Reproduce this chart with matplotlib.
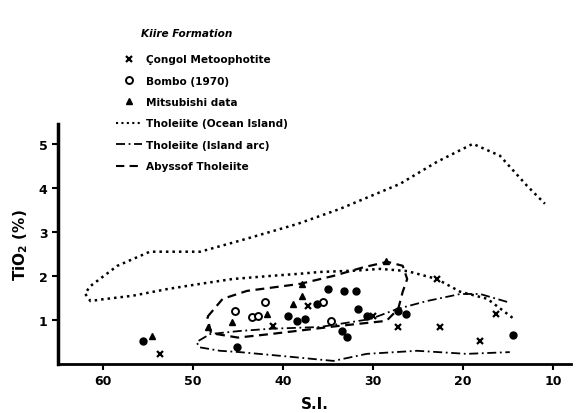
import matplotlib
matplotlib.use("Agg")
import matplotlib.pyplot as plt
from matplotlib.lines import Line2D

# envelope curves (S.I., TiO2 %)
ocean_si = [14.5, 17.3, 20.3, 22.9, 26.2, 29.2, 32.0, 35.9, 38.1, 41.4, 45.6, 49.2, 52.9, 56.7, 60.0,
            61.4, 62.0, 61.4, 58.4, 54.8, 49.2, 44.8, 38.4, 33.7, 27.0, 22.9, 18.9, 15.9, 12.9, 10.9]
ocean_ti = [1.05, 1.48, 1.64, 1.93, 2.11, 2.16, 2.12, 2.09, 2.05, 2.0, 1.93, 1.82, 1.70, 1.55, 1.47,
            1.43, 1.6, 1.77, 2.23, 2.55, 2.55, 2.8, 3.18, 3.52, 4.09, 4.59, 5.0, 4.73, 4.05, 3.64]

arc_si = [15.1, 18.1, 20.3, 24.0, 27.3, 30.3, 35.9, 41.4, 44.8, 48.1, 49.6, 49.3, 47.0, 44.8,
          40.0, 34.4, 30.7, 25.1, 19.6, 14.8]
arc_ti = [1.41, 1.59, 1.59, 1.43, 1.25, 1.02, 0.84, 0.8, 0.75, 0.68, 0.5, 0.38, 0.3, 0.27,
          0.18, 0.07, 0.23, 0.3, 0.23, 0.27]

aby_si = [48.4, 46.7, 44.0, 38.1, 34.4, 31.0, 28.4, 26.7, 26.2, 26.7, 27.2, 28.5, 34.0, 41.4, 45.0, 48.0, 48.4]
aby_ti = [1.07, 1.48, 1.66, 1.82, 2.0, 2.2, 2.32, 2.23, 1.93, 1.64, 1.25, 0.98, 0.86, 0.68, 0.6, 0.7, 1.07]

# samples
congol_si = [53.7, 41.1, 37.2, 30.0, 27.2, 22.9, 22.6, 18.1, 16.3]
congol_ti = [0.23, 0.86, 1.32, 1.09, 0.84, 1.93, 0.84, 0.52, 1.14]

bombo_si = [45.3, 43.4, 42.8, 42.0, 35.6, 34.7]
bombo_ti = [1.2, 1.07, 1.09, 1.41, 1.41, 0.98]

mitsu_si = [54.6, 48.3, 45.7, 41.8, 37.9, 37.9, 38.9, 28.6]
mitsu_ti = [0.64, 0.84, 0.95, 1.14, 1.82, 1.55, 1.36, 2.33]

dots_si = [55.6, 45.1, 35.0, 33.2, 31.9, 36.2, 39.4, 38.4, 37.6, 33.4, 32.9, 31.7, 30.7, 27.2, 26.3, 14.4]
dots_ti = [0.52, 0.39, 1.7, 1.66, 1.66, 1.36, 1.09, 0.98, 1.02, 0.75, 0.61, 1.25, 1.09, 1.2, 1.14, 0.66]

xticks = [60, 50, 40, 30, 20, 10]
yticks = [1, 2, 3, 4, 5]

fig = plt.figure(figsize=(5.77, 4.14), dpi=100)
ax = fig.add_axes([58 / 577, 49 / 414, 513 / 577, 240 / 414])

ax.plot(ocean_si, ocean_ti, color="black", linestyle=(0, (1, 1.6)), linewidth=1.8)
ax.plot(arc_si, arc_ti, color="black", linestyle=(0, (5, 2, 1, 2)), linewidth=1.3)
ax.plot(aby_si, aby_ti, color="black", linestyle=(0, (4, 2.5)), linewidth=1.6)

ax.plot(congol_si, congol_ti, "x", color="black", markersize=4, markeredgewidth=1.6)
ax.plot(bombo_si, bombo_ti, "o", color="black", markerfacecolor="white", markersize=5, markeredgewidth=1.4)
ax.plot(mitsu_si, mitsu_ti, "^", color="black", markersize=5)
ax.plot(dots_si, dots_ti, "o", color="black", markersize=5)

ax.set_xlim(65, 8)
ax.set_ylim(0, 5.45)
ax.set_xticks(xticks)
ax.set_yticks(yticks)
ax.tick_params(direction="out", length=4, width=1.5, labelsize=9)
for lab in ax.get_xticklabels() + ax.get_yticklabels():
    lab.set_fontweight("bold")
ax.spines["top"].set_visible(False)
ax.spines["right"].set_visible(False)
ax.spines["left"].set_linewidth(2.5)
ax.spines["bottom"].set_linewidth(2.0)

ax.set_xlabel("S.I.", fontsize=11, fontweight="bold", labelpad=6)
ax.set_ylabel("TiO$_\\mathbf{2}$ (%)", fontsize=11, fontweight="bold", labelpad=6)

handles = [
    Line2D([], [], marker="x", linestyle="none", color="black", markersize=4, markeredgewidth=1.6),
    Line2D([], [], marker="o", linestyle="none", color="black", markerfacecolor="white", markersize=5, markeredgewidth=1.4),
    Line2D([], [], marker="^", linestyle="none", color="black", markersize=5),
    Line2D([], [], color="black", linestyle=(0, (1, 1.6)), linewidth=1.5),
    Line2D([], [], color="black", linestyle=(0, (5, 2, 1, 2)), linewidth=1.3),
    Line2D([], [], color="black", linestyle=(0, (4, 2.5)), linewidth=1.5),
]
labels = ["Çongol Metoophotite", "Bombo (1970)", "Mitsubishi data",
          "Tholeiite (Ocean Island)", "Tholeiite (Island arc)", "Abyssof Tholeiite"]
fig.legend(handles, labels, loc="upper left", bbox_to_anchor=(111 / 577, 1 - 50 / 414),
           frameon=False, handlelength=2.4, handletextpad=0.45,
           labelspacing=1.08, borderpad=0, prop={"weight": "bold", "size": 7.6})
fig.text(141 / 577, 1 - 34 / 414, "Kiire Formation", fontsize=7.6, fontstyle="italic",
         fontweight="bold", va="center")

fig.savefig("out.png", dpi=100)
